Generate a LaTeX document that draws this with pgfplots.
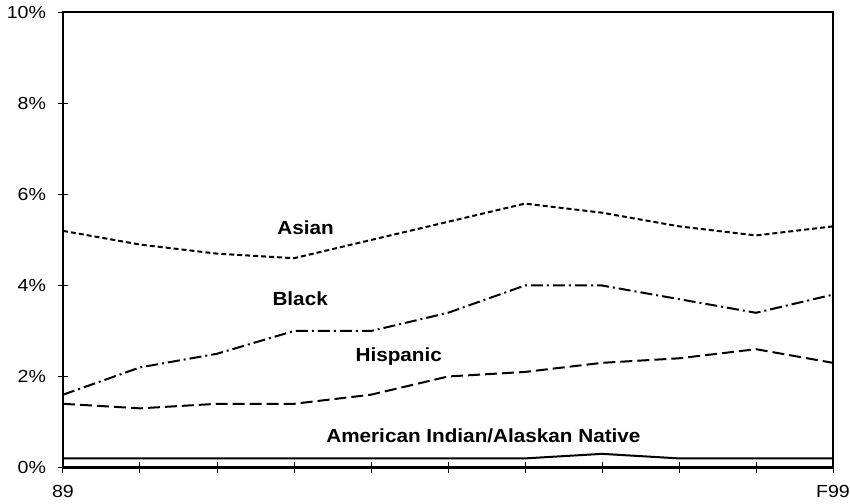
\documentclass[border=0pt]{standalone}
\usepackage{pgfplots}
\pgfplotsset{compat=1.18}
\usepackage{fontspec}
\setmainfont{Liberation Sans}
\newfontfamily\tickfont{Liberation Sans}[FakeStretch=1.12]
\newfontfamily\labelfont{Liberation Sans}[FakeStretch=1.09]
\begin{document}
\begin{tikzpicture}
    \useasboundingbox (-63bp,-36.5bp) rectangle (787bp,467.5bp);
    \begin{axis}[
            at={(0,0)}, anchor=south west,
            scale only axis,
            width=770bp,
            height=455bp,
            xmin=0, xmax=10,
            ymin=0, ymax=10,
            xtick={0,1,...,10},
            xticklabels={89,,,,,,,,,,F99},
            ytick={0,2,...,10},
            yticklabels={0\%,2\%,4\%,6\%,8\%,10\%},
            tick pos=left,
            tick align=center,
            major tick length=11bp,
            axis line style={line width=2bp},
            every tick/.style={black, line width=1bp},
            /pgf/number format/assume math mode=true,
            tick label style={font=\tickfont\fontsize{17.5bp}{20bp}\selectfont},
            yticklabel style={xshift=-8bp},
            xticklabel style={yshift=-9bp},
            every axis plot/.append style={black, line width=2bp, mark=none},
            clip=false,
        ]

        % Asian
        \addplot[dash pattern=on 5bp off 3bp] coordinates {
            (0,5.2) (1,4.9) (2,4.7) (3,4.6) (4,5.0) (5,5.4)
            (6,5.8) (7,5.6) (8,5.3) (9,5.1) (10,5.3)
        };
        % Black
        \addplot[dash pattern=on 12bp off 4bp on 2bp off 4bp] coordinates {
            (0,1.6) (1,2.2) (2,2.5) (3,3.0) (4,3.0) (5,3.4)
            (6,4.0) (7,4.0) (8,3.7) (9,3.4) (10,3.8)
        };
        % Hispanic
        \addplot[dash pattern=on 12bp off 5bp] coordinates {
            (0,1.4) (1,1.3) (2,1.4) (3,1.4) (4,1.6) (5,2.0)
            (6,2.1) (7,2.3) (8,2.4) (9,2.6) (10,2.3)
        };
        % American Indian/Alaskan Native
        \addplot[solid] coordinates {
            (0,0.2) (1,0.2) (2,0.2) (3,0.2) (4,0.2) (5,0.2)
            (6,0.2) (7,0.3) (8,0.2) (9,0.2) (10,0.2)
        };

        \begin{scope}[font=\labelfont\fontsize{19bp}{21bp}\selectfont\bfseries]
            \node at (axis cs:3.15,5.27) {Asian};
            \node at (axis cs:3.08,3.71) {Black};
            \node at (axis cs:4.36,2.44) {Hispanic};
            \node at (axis cs:5.46,0.70) {American Indian/Alaskan Native};
        \end{scope}
    \end{axis}
\end{tikzpicture}
\end{document}
